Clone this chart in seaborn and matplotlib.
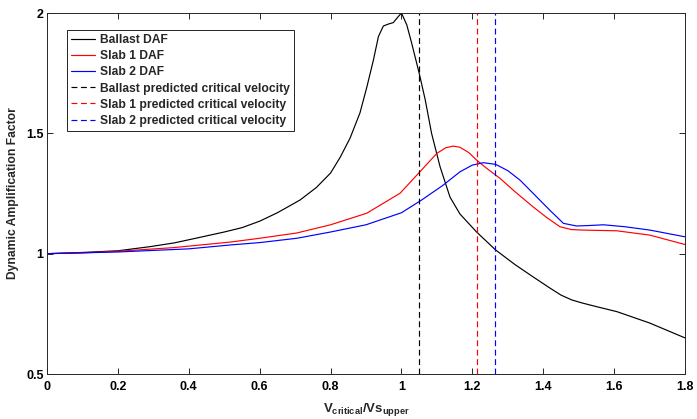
import matplotlib
matplotlib.use("Agg")
import matplotlib.pyplot as plt
import seaborn as sns
import pandas as pd

# Normalised speed V/Vs_upper and dynamic amplification factor per track type
ballast_x = [0.0, 0.1, 0.2, 0.29, 0.36, 0.432, 0.5, 0.55, 0.6, 0.65, 0.714, 0.76, 0.8,
             0.827, 0.855, 0.883, 0.902, 0.921, 0.935, 0.949, 0.963, 0.977, 0.991, 1.0,
             1.015, 1.029, 1.05, 1.067, 1.085, 1.109, 1.137, 1.165, 1.212, 1.266,
             1.32, 1.371, 1.419, 1.45, 1.48, 1.51, 1.55, 1.608, 1.7, 1.8]
ballast_daf = [1.0, 1.005, 1.012, 1.029, 1.045, 1.068, 1.09, 1.108, 1.135, 1.17, 1.223,
               1.275, 1.335, 1.40, 1.48, 1.585, 1.69, 1.805, 1.902, 1.946, 1.954,
               1.96, 1.985, 2.0, 1.951, 1.874, 1.75, 1.64, 1.5, 1.361, 1.235, 1.165,
               1.09, 1.015, 0.955, 0.904, 0.857, 0.828, 0.808, 0.795, 0.78, 0.759,
               0.712, 0.65]

slab1_x = [0.0, 0.1, 0.2, 0.356, 0.516, 0.6, 0.705, 0.8, 0.902, 0.954, 0.996, 1.052,
           1.10, 1.125, 1.146, 1.165, 1.19, 1.212, 1.24, 1.278, 1.32, 1.371, 1.41,
           1.447, 1.48, 1.513, 1.608, 1.701, 1.8]
slab1_daf = [1.0, 1.003, 1.01, 1.025, 1.048, 1.064, 1.086, 1.12, 1.168, 1.214, 1.251,
             1.34, 1.417, 1.44, 1.447, 1.442, 1.42, 1.389, 1.355, 1.313, 1.258, 1.195,
             1.15, 1.112, 1.1, 1.098, 1.095, 1.077, 1.038]

slab2_x = [0.0, 0.2, 0.4, 0.516, 0.6, 0.705, 0.8, 0.9, 1.0, 1.057, 1.118, 1.165,
           1.2, 1.231, 1.266, 1.3, 1.335, 1.372, 1.419, 1.457, 1.494, 1.53, 1.57,
           1.63, 1.701, 1.8]
slab2_daf = [1.0, 1.007, 1.02, 1.036, 1.046, 1.064, 1.09, 1.12, 1.17, 1.223, 1.285,
             1.34, 1.368, 1.378, 1.371, 1.345, 1.305, 1.25, 1.18, 1.126, 1.115, 1.117,
             1.12, 1.112, 1.098, 1.07]

# Predicted critical velocities (normalised)
critical_ballast = 1.05
critical_slab1 = 1.213
critical_slab2 = 1.265

x_ticks = [0, 0.2, 0.4, 0.6, 0.8, 1.0, 1.2, 1.4, 1.6, 1.8]
x_tick_labels = ["0", "0.2", "0.4", "0.6", "0.8", "1", "1.2", "1.4", "1.6", "1.8"]
y_ticks = [0.5, 1.0, 1.5, 2.0]
y_tick_labels = ["0.5", "1", "1.5", "2"]

sns.set_style("ticks")
plt.rcParams["font.family"] = ["Liberation Sans", "DejaVu Sans"]
plt.rcParams["font.weight"] = "bold"
plt.rcParams["mathtext.fontset"] = "custom"
plt.rcParams["mathtext.rm"] = "Liberation Sans:bold"
plt.rcParams["mathtext.it"] = "Liberation Sans:bold"
plt.rcParams["mathtext.bf"] = "Liberation Sans:bold"

tick_fs = 9
text_fs = 8.7
axis_grey = "#262626"

fig = plt.figure(figsize=(6.97, 4.19), dpi=100)
ax = fig.add_axes([47 / 697, 45 / 419, 638 / 697, 361 / 419])

lw = 0.85
sns.lineplot(data=pd.DataFrame({"x": ballast_x, "y": ballast_daf}), x="x", y="y",
             color="black", lw=lw, ax=ax, label="Ballast DAF")
sns.lineplot(data=pd.DataFrame({"x": slab1_x, "y": slab1_daf}), x="x", y="y",
             color="#ff0000", lw=lw, ax=ax, label="Slab 1 DAF")
sns.lineplot(data=pd.DataFrame({"x": slab2_x, "y": slab2_daf}), x="x", y="y",
             color="#0000ff", lw=lw, ax=ax, label="Slab 2 DAF")

dash = (0, (5, 3))
for xv, col, name in [(critical_ballast, "black", "Ballast predicted critical velocity"),
                      (critical_slab1, "#ff0000", "Slab 1 predicted critical velocity"),
                      (critical_slab2, "#0000ff", "Slab 2 predicted critical velocity")]:
    vl = ax.axvline(xv, color=col, lw=lw, ls=dash, label=name)
    vl.set_snap(True)

ax.set_xlim(0, 1.8)
ax.set_ylim(0.5, 2.0)
ax.set_xticks(x_ticks)
ax.set_xticklabels(x_tick_labels)
ax.set_yticks(y_ticks)
ax.set_yticklabels(y_tick_labels)

for side in ["top", "right", "bottom", "left"]:
    ax.spines[side].set_visible(True)
    ax.spines[side].set_color(axis_grey)
    ax.spines[side].set_linewidth(0.7)

ax.tick_params(direction="in", length=4, width=0.7, color=axis_grey,
               top=True, right=True, labelsize=tick_fs, labelcolor="black")
ax.tick_params(axis="x", pad=5)
ax.tick_params(axis="y", pad=2.5)
for lab in ax.get_xticklabels() + ax.get_yticklabels():
    lab.set_fontweight("bold")

ax.set_xlabel(r"$\mathrm{V_{critical}/Vs_{upper}}$", fontsize=tick_fs + 0.5, labelpad=6)
ax.set_ylabel("Dynamic Amplification Factor", fontsize=text_fs, fontweight="bold",
              labelpad=5)

leg = ax.legend(loc="upper left", bbox_to_anchor=(0.031, 0.953), borderaxespad=0,
                fontsize=text_fs, frameon=True, fancybox=False, framealpha=1,
                edgecolor="black", handlelength=1.95, handletextpad=0.45,
                labelspacing=0.34, borderpad=0.35)
leg.get_frame().set_linewidth(0.6)
for t in leg.get_texts():
    t.set_fontweight("bold")

fig.savefig("out.png", dpi=100)
